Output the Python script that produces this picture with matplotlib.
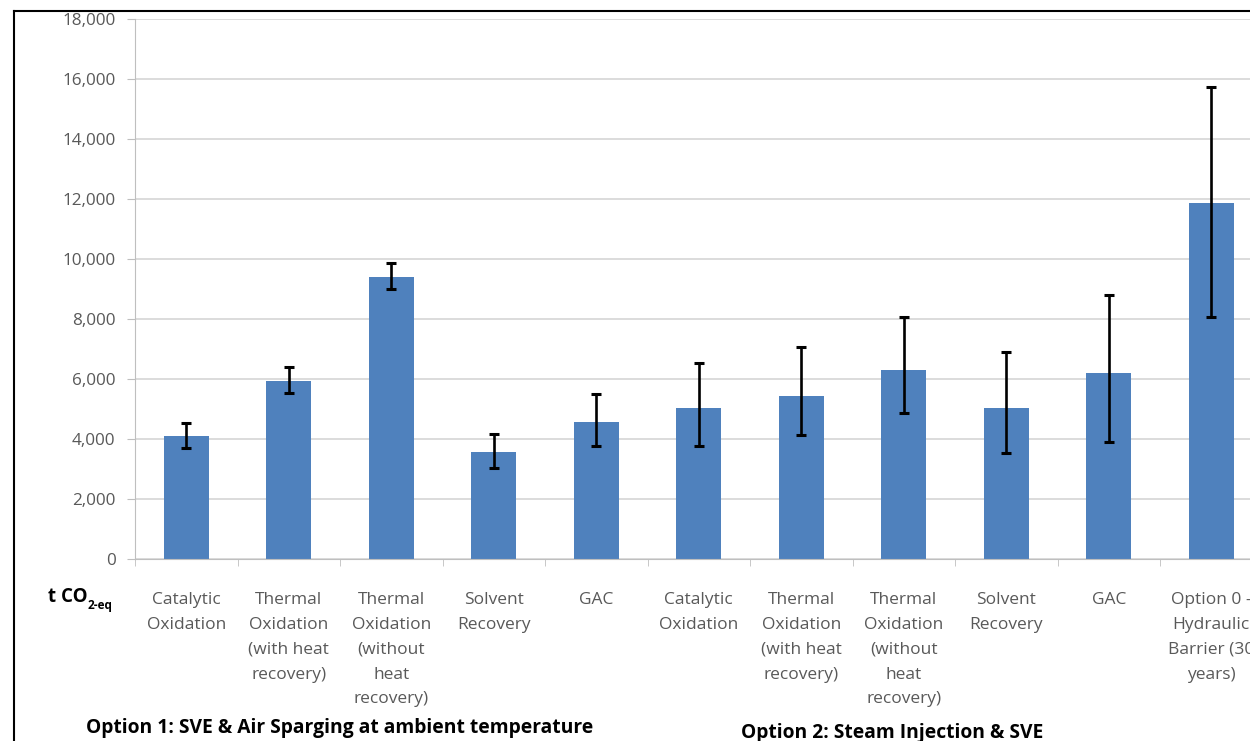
import matplotlib
matplotlib.use("Agg")
import matplotlib.pyplot as plt
from matplotlib.lines import Line2D
import numpy as np

# category labels (Option 1 group, Option 2 group, Option 0)
categories = [
    "Catalytic\nOxidation",
    "Thermal\nOxidation\n(with heat\nrecovery)",
    "Thermal\nOxidation\n(without\nheat\nrecovery)",
    "Solvent\nRecovery",
    "GAC",
    "Catalytic\nOxidation",
    "Thermal\nOxidation\n(with heat\nrecovery)",
    "Thermal\nOxidation\n(without\nheat\nrecovery)",
    "Solvent\nRecovery",
    "GAC",
    "Option 0 -\nHydraulic\nBarrier (30\nyears)",
]
emissions = [4100, 5950, 9400, 3570, 4570, 5030, 5430, 6300, 5030, 6200, 11870]
err_low = [3700, 5530, 9000, 3030, 3770, 3770, 4130, 4870, 3530, 3900, 8070]
err_high = [4530, 6400, 9870, 4170, 5500, 6530, 7070, 8070, 6900, 8800, 15730]
y_ticks = list(range(0, 18001, 2000))
group_labels = ["Option 1: SVE & Air Sparging at ambient temperature",
                "Option 2: Steam Injection & SVE"]

plt.rcParams["font.family"] = ["Open Sans", "DejaVu Sans"]

W, H = 1250, 741
fig = plt.figure(figsize=(W / 100, H / 100), dpi=100)
ax = fig.add_axes([135 / W, 182 / H, 1127.5 / W, 540 / H])

x = np.arange(len(categories))
vals = np.array(emissions)
yerr = [vals - np.array(err_low), np.array(err_high) - vals]
ax.bar(x, vals, width=0.44, color="#4F81BD", zorder=2)
ax.errorbar(x, vals, yerr=yerr, fmt="none", ecolor="black", elinewidth=1.9,
            capsize=3.8, capthick=2.2, zorder=3)

ax.set_xlim(-0.5, len(categories) - 0.5)
ax.set_ylim(0, 18000)
ax.set_yticks(y_ticks)
ax.set_yticklabels([f"{v:,}" for v in y_ticks])
ax.yaxis.grid(True, color="#d9d9d9", linewidth=1.3, zorder=0)
ax.set_axisbelow(True)

# labels run past the right edge, as in the cropped source image
ax.set_xticks(x)
ax.set_xticklabels(categories, linespacing=1.73)
ax.set_xticks(np.arange(-0.5, len(categories), 1), minor=True)
ax.tick_params(axis="x", which="major", length=0, pad=24, labelsize=12.5,
               labelcolor="#595959")
ax.tick_params(axis="x", which="minor", length=5, color="#bfbfbf", direction="out")
ax.tick_params(axis="y", length=6, color="#bfbfbf", labelsize=12.3,
               labelcolor="#595959", pad=8)

for s in ["top", "right"]:
    ax.spines[s].set_visible(False)
ax.spines["left"].set_color("#bfbfbf")
ax.spines["bottom"].set_color("#bfbfbf")

# unit label
t = fig.text(48 / W, 1 - 597 / H, "t CO", fontsize=13.5, fontweight="bold",
             va="center", ha="left")
ax.annotate("2-eq", xy=(1, 0.1), xycoords=t, fontsize=8.5, fontweight="bold",
            va="center", ha="left", annotation_clip=False)

fig.text(340 / W, 1 - 728 / H, group_labels[0], fontsize=13.9, fontweight="bold",
         ha="center", va="center")
fig.text(892 / W, 1 - 733 / H, group_labels[1], fontsize=13.9, fontweight="bold",
         ha="center", va="center")

# image frame (top and left edges)
fig.add_artist(Line2D([14 / W, 1.0], [1 - 11 / H, 1 - 11 / H], color="black", lw=1.5))
fig.add_artist(Line2D([14 / W, 14 / W], [0, 1 - 11 / H], color="black", lw=1.5))

fig.savefig("out.png", dpi=100)
